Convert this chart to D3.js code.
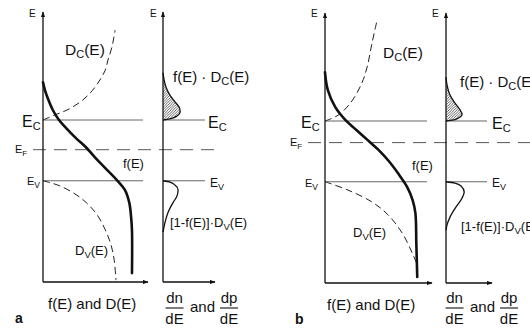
<!DOCTYPE html>
<html><head><meta charset="utf-8">
<script src="https://cdn.jsdelivr.net/npm/d3@7"></script>
<style>
body{margin:0;background:#fff}
svg{display:block}
text{font-family:"Liberation Sans",Arial,Helvetica,sans-serif;fill:#111}
</style>
</head><body>
<svg id="c" width="530" height="329"></svg>
<script>
// ---------- data (energy in arbitrary units 0..10, densities in arbitrary units) ----------
const panelIds = ["a", "b"];
const EcLevel = [6.0, 6.0];
const EvLevel = [3.75, 3.75];
const EfLevel = [4.9, 5.2];

// panel a
const fA_E  = [7.4, 7.11, 6.75, 6.37, 6.0, 5.7, 5.33, 5.0, 4.52, 4.22, 3.74, 3.41, 2.93, 2.41, 1.9, 0.33];
const fA_v  = [0, 0.022, 0.06, 0.11, 0.18, 0.26, 0.37, 0.48, 0.61, 0.70, 0.84, 0.92, 0.97, 0.99, 1.0, 1.0];
const dcA_E = [6.0, 6.19, 6.37, 6.67, 7.0, 7.48, 7.85, 8.22, 8.7, 9.33];
const dcA_v = [0, 0.135, 0.27, 0.42, 0.53, 0.64, 0.70, 0.73, 0.775, 0.81];
const dvA_E = [3.75, 3.56, 3.26, 2.93, 2.48, 1.93, 1.37, 0.81, 0.07];
const dvA_v = [0, 0.19, 0.36, 0.49, 0.61, 0.70, 0.765, 0.80, 0.82];
const nA_E  = [7.75, 7.5, 7.2, 6.93, 6.67, 6.44, 6.3, 6.15, 6.04, 6.0];
const nA_v  = [0, 0.02, 0.06, 0.13, 0.23, 0.32, 0.33, 0.27, 0.13, 0];
const pA_E  = [3.75, 3.70, 3.59, 3.41, 3.19, 2.93, 2.59, 2.22, 1.85];
const pA_v  = [0, 0.135, 0.23, 0.29, 0.27, 0.19, 0.10, 0.04, 0];

// panel b
const fB_E  = [7.8, 7.15, 6.52, 6.04, 5.67, 5.3, 4.93, 4.48, 4.07, 3.56, 3.07, 2.59, 1.48, 0.22];
const fB_v  = [0, 0.03, 0.11, 0.22, 0.34, 0.46, 0.58, 0.70, 0.79, 0.89, 0.95, 0.98, 0.99, 1.0];
const dcB_E = [6.0, 6.15, 6.33, 6.78, 7.41, 8.0, 8.89, 9.74];
const dcB_v = [0, 0.11, 0.185, 0.30, 0.40, 0.457, 0.51, 0.565];
const dvB_E = [3.75, 3.44, 3.0, 2.52, 1.85, 1.11, 0.59];
const dvB_v = [0, 0.25, 0.51, 0.685, 0.837, 0.946, 1.01];
const nB_E  = [7.63, 7.33, 6.96, 6.67, 6.41, 6.26, 6.07, 6.02, 6.0];
const nB_v  = [0, 0.02, 0.077, 0.17, 0.27, 0.31, 0.2, 0.08, 0];
const pB_E  = [3.75, 3.70, 3.59, 3.37, 3.15, 2.81, 2.44, 2.15, 1.96];
const pB_v  = [0, 0.17, 0.29, 0.35, 0.31, 0.19, 0.077, 0.02, 0];

// ---------- layout ----------
const layouts = [
  {x0:43, x1:148, xmax:1.18, y0:282, y1:12, rx0:163, rx1:215, rxmax:1.0,
   lineEnd:143, rLineEnd:205, efStart:33, efEnd:218,
   lab:{E1:[29,17],E2:[150,17],DC:[65,55],EcL:[22,127],EfL:[15,153],EvL:[27,185],fE:[123,168],DV:[75,255],
        fDC:[173,82],EcR:[208,128],EvR:[210,187],pl:[170,227],xl:[48,309],frac:[174.5,229,190],id:[15,323]}},
  {x0:325, x1:432, xmax:1.16, y0:283, y1:13, rx0:446, rx1:492, rxmax:46/52,
   lineEnd:427, rLineEnd:487, efStart:308, efEnd:530,
   lab:{E1:[311,17],E2:[432,17],DC:[383,58],EcL:[301,128],EfL:[290,146],EvL:[305,187],fE:[412,170],DV:[353,237],
        fDC:[460,87],EcR:[492,129],EvR:[492,187],pl:[461,231],xl:[327,310],frac:[454.5,509,470],id:[295,324]}}
];
const series = [
  {f:[fA_E,fA_v], dc:[dcA_E,dcA_v], dv:[dvA_E,dvA_v], n:[nA_E,nA_v], p:[pA_E,pA_v]},
  {f:[fB_E,fB_v], dc:[dcB_E,dcB_v], dv:[dvB_E,dvB_v], n:[nB_E,nB_v], p:[pB_E,pB_v]}
];

const svg = d3.select("#c");
const defs = svg.append("defs");
defs.append("marker").attr("id","arr").attr("viewBox","0 0 10 10")
  .attr("refX",9).attr("refY",5).attr("markerWidth",6).attr("markerHeight",4.5)
  .attr("markerUnits","userSpaceOnUse").attr("orient","auto").attr("preserveAspectRatio","none")
  .append("path").attr("d","M0,0L10,5L0,10Z").attr("fill","#111");
const pat = defs.append("pattern").attr("id","hatch").attr("patternUnits","userSpaceOnUse")
  .attr("width",2.6).attr("height",2.6);
pat.append("path").attr("d","M-1,1L1,-1M0,2.6L2.6,0M1.6,3.6L3.6,1.6").attr("stroke","#222").attr("stroke-width",0.7);

function lab(g, x, y, size, segs, anchor, extra) {
  const t = g.append("text").attr("x",x).attr("y",y).attr("font-size",size)
    .attr("text-anchor",anchor||"start");
  if (extra) extra(t);
  let shifted = 0;
  segs.forEach(s => {
    if (typeof s === "string") {
      const sp = t.append("tspan").text(s);
      if (shifted) { sp.attr("dy", -shifted); shifted = 0; }
    } else {
      const dy = s.dy != null ? s.dy : size*0.25;
      t.append("tspan").text(s.sub).attr("font-size", s.size || size*0.72).attr("dy", dy - shifted);
      shifted = dy;
    }
  });
  return t;
}

layouts.forEach((L, i) => {
  const S = series[i];
  const g = svg.append("g");
  const y = d3.scaleLinear().domain([0,10]).range([L.y0, L.y1]);
  const x = d3.scaleLinear().domain([0,L.xmax]).range([L.x0, L.x1]);
  const rx = d3.scaleLinear().domain([0,L.rxmax]).range([L.rx0, L.rx1]);
  const toPts = arr => arr[0].map((e,k) => [arr[1][k], e]);

  // level lines
  const thin = (x1,x2,yy) => g.append("line").attr("x1",x1).attr("x2",x2).attr("y1",yy).attr("y2",yy)
      .attr("stroke","#555").attr("stroke-width",0.9);
  [EcLevel[i], EvLevel[i]].forEach(lv => {
    thin(x(0), L.lineEnd, y(lv));
    thin(rx(0), L.rLineEnd, y(lv));
  });
  g.append("line").attr("x1",L.efStart).attr("x2",L.efEnd).attr("y1",y(EfLevel[i])).attr("y2",y(EfLevel[i]))
    .attr("stroke","#444").attr("stroke-width",0.9).attr("stroke-dasharray","13,8");

  // axes
  const ax = (x1,y1,x2,y2) => g.append("line").attr("x1",x1).attr("y1",y1).attr("x2",x2).attr("y2",y2)
      .attr("stroke","#111").attr("stroke-width",1.3).attr("marker-end","url(#arr)");
  ax(x(0), y(0), x(0), y(10));
  ax(x(0), y(0), x(L.xmax), y(0));
  ax(rx(0), y(0), rx(0), y(10));
  ax(rx(0), y(0), rx(L.rxmax), y(0));

  const lineS = d3.line().x(d => x(d[0])).y(d => y(d[1])).curve(d3.curveCatmullRom.alpha(0.5));
  const lineR = d3.line().x(d => rx(d[0])).y(d => y(d[1])).curve(d3.curveMonotoneY);

  // densities of states (dashed)
  g.append("path").attr("d", lineS(toPts(S.dc))).attr("fill","none").attr("stroke","#222")
    .attr("stroke-width",1).attr("stroke-dasharray","7,4");
  g.append("path").attr("d", lineS(toPts(S.dv))).attr("fill","none").attr("stroke","#222")
    .attr("stroke-width",1).attr("stroke-dasharray","7,4");
  // Fermi function (thick)
  g.append("path").attr("d", lineS(toPts(S.f))).attr("fill","none").attr("stroke","#111")
    .attr("stroke-width",2.6).attr("stroke-linecap","round");

  // electron distribution (hatched)
  const areaR = d3.area().y(d => y(d[1])).x0(rx(0)).x1(d => rx(d[0])).curve(d3.curveMonotoneY);
  g.append("path").attr("d", areaR(toPts(S.n))).attr("fill","url(#hatch)");
  g.append("path").attr("d", lineR(toPts(S.n))).attr("fill","none").attr("stroke","#111").attr("stroke-width",1.3);
  // hole distribution
  g.append("path").attr("d", lineR(toPts(S.p))).attr("fill","none").attr("stroke","#111").attr("stroke-width",1.3);

  // labels
  const P = L.lab;
  lab(g, P.E1[0], P.E1[1], 10, ["E"]);
  lab(g, P.E2[0], P.E2[1], 10, ["E"]);
  lab(g, P.DC[0], P.DC[1], 15.5, ["D", {sub:"C", size:11, dy:3}, "(E)"]);
  lab(g, P.EcL[0], P.EcL[1], 16, ["E", {sub:"C", size:11, dy:3}]);
  lab(g, P.EfL[0], P.EfL[1], 11, ["E", {sub:"F", size:8, dy:3}]);
  lab(g, P.EvL[0], P.EvL[1], 11, ["E", {sub:"V", size:8.5, dy:3}]);
  lab(g, P.fE[0], P.fE[1], 13, ["f(E)"]);
  lab(g, P.DV[0], P.DV[1], 13, ["D", {sub:"V", size:9.5, dy:3}, "(E)"]);
  lab(g, P.fDC[0], P.fDC[1], 15, ["f(E) \u00b7 D", {sub:"C", size:11, dy:3}, "(E)"]);
  lab(g, P.EcR[0], P.EcR[1], 16, ["E", {sub:"C", size:11, dy:3}]);
  lab(g, P.EvR[0], P.EvR[1], 12, ["E", {sub:"V", size:9, dy:3}]);
  lab(g, P.pl[0], P.pl[1], 13, ["[1-f(E)]\u00b7D", {sub:"V", size:9.5, dy:3}, "(E)"]);
  lab(g, P.xl[0], P.xl[1], 15, ["f(E) and D(E)"]);
  // fractions dn/dE and dp/dE
  const fr = (cx, top) => {
    lab(g, cx, 303, 15, [top], "middle");
    g.append("line").attr("x1",cx-9).attr("x2",cx+9).attr("y1",308).attr("y2",308)
      .attr("stroke","#111").attr("stroke-width",1.1);
    lab(g, cx, 324, 15, ["dE"], "middle");
  };
  fr(P.frac[0], "dn");
  fr(P.frac[1], "dp");
  lab(g, P.frac[2], 312, 15, ["and"]);
  lab(g, P.id[0], P.id[1], 14, [panelIds[i]], "start",
      t => t.attr("font-family","'Liberation Serif','Times New Roman',serif").attr("font-weight","bold"));
});
</script>
</body></html>
